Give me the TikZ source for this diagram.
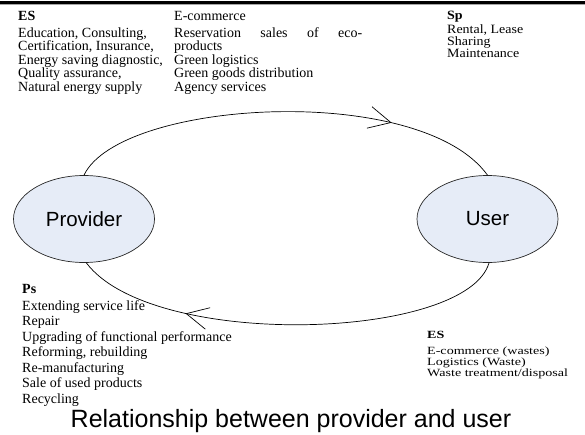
\documentclass[tikz,border=0pt]{standalone}
\usepackage{amsmath, amssymb}
\usepackage{xcolor}
\usepackage{fontspec}
\setmainfont{Liberation Serif}
\setsansfont{Liberation Sans}
\newfontfamily\serifwide[FakeStretch=1.1]{Liberation Serif}
\newfontfamily\serifwider[FakeStretch=1.28]{Liberation Serif}
\usepackage{tikz}
\usetikzlibrary{shapes.geometric, arrows.meta, decorations.markings}

\definecolor{ovalfill}{RGB}{230,236,247}

\begin{document}
\begin{tikzpicture}[x=1pt, y=-1pt,
    party/.style={draw=black!85, fill=ovalfill, ellipse, line width=0.7pt,
        minimum width=141pt, minimum height=87pt, inner sep=0pt,
        font=\sffamily\fontsize{20.5}{24}\selectfont},
    txt/.style={anchor=base west, inner sep=0pt, align=left,
        font=\fontsize{14}{13.6}\selectfont},
    tipat/.style={decoration={markings, mark=at position #1 with
        {\arrow{Straight Barb[length=22pt, width=22pt, line width=0.7pt]}}}},
    flow/.style={line width=0.7pt, postaction={decorate}}]
    \useasboundingbox (0,0) rectangle (585,434);

    \fill[black] (0,0.5) rectangle (585,3.5);
    \draw[black!35, line width=1pt] (0,4.5) -- (585,4.5);

    \node[party] (prov) at (84,219) {Provider};
    \node[party] (usr) at (487.5,219) {User};

    \draw[flow, tipat=0.745] (prov.north) .. controls +(36,-75.5) and +(-67.5,-93.5) .. (usr.north);
    \draw[flow, tipat=0.74] (usr.-88) .. controls +(-22.5,77.5) and +(66,87.5) .. (prov.-87);

    \node[txt] (esTop) at (18,91.4) {\textbf{ES}\\[2.9pt]
        Education, Consulting,\\ Certification, Insurance,\\
        Energy saving diagnostic,\\ Quality assurance,\\ Natural energy supply};
    \node[txt] (ecoTop) at (174,91.4) {E-commerce\\[3.4pt]
        \makebox[188pt][s]{Reservation sales of eco-}\\ products\\
        Green logistics\\ Green goods distribution\\ Agency services};
    \node[txt, font=\serifwide\fontsize{12.7}{12}\selectfont] (spTop) at (447,57.5) {\textbf{Sp}\\[2.5pt]
        Rental, Lease\\ Sharing\\ Maintenance};
    \node[txt, font=\fontsize{14}{15.5}\selectfont] (psBot) at (22,403) {\textbf{Ps}\\[1.5pt]
        Extending service life\\ Repair\\ Upgrading of functional performance\\
        Reforming, rebuilding\\ Re-manufacturing\\ Sale of used products\\ Recycling};
    \node[txt, font=\serifwider\fontsize{11}{11}\selectfont] (esBot) at (427,376) {\textbf{ES}\\[5pt]
        E-commerce (wastes)\\ Logistics (Waste)\\ Waste treatment/disposal};

    \node[anchor=base, inner sep=0pt, font=\sffamily\fontsize{25}{30}\selectfont] (title) at (291,427)
        {Relationship between provider and user};
\end{tikzpicture}
\end{document}
